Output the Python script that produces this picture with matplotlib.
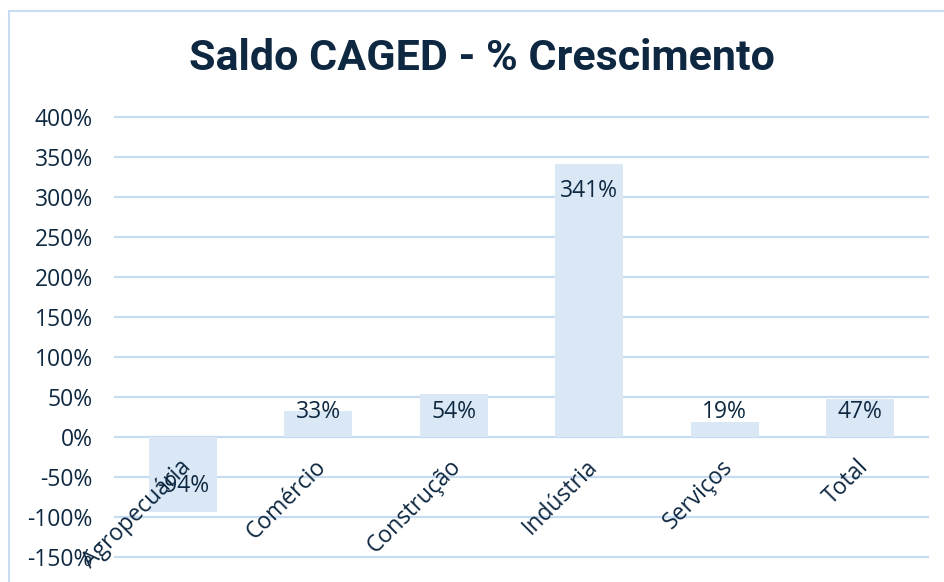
import matplotlib
matplotlib.use("Agg")
import matplotlib.pyplot as plt
from matplotlib.patches import Rectangle
from matplotlib.ticker import FuncFormatter

categorias = ["Agropecuária", "Comércio", "Construção", "Indústria", "Serviços", "Total"]
crescimento = [-94, 33, 54, 341, 19, 47]
yticks = list(range(-150, 401, 50))

navy = "#0e2841"
bar_color = "#dae8f6"
grid_color = "#c8dcf1"

plt.rcParams['font.family'] = ['Open Sans', 'DejaVu Sans']

fig = plt.figure(figsize=(9.44, 5.82), dpi=100)
ax = fig.add_axes([115/944, 1 - 557/582, (928 - 115)/944, (557 - 117)/582])

x = range(len(categorias))
ax.bar(x, crescimento, width=0.5, color=bar_color, zorder=2)

ax.set_xlim(-0.5, len(categorias) - 0.5)
ax.set_ylim(-150, 400)
ax.set_yticks(yticks)
ax.yaxis.set_major_formatter(FuncFormatter(lambda v, p: f"{v:.0f}%"))
ax.tick_params(axis='y', length=0, pad=16, labelsize=16.5, labelcolor=navy)
ax.set_xticks([])
for s in ax.spines.values():
    s.set_visible(False)
for t in yticks:
    ax.axhline(t, color=grid_color, lw=1.6, zorder=1, clip_on=False)

# rótulos de dados (dentro da ponta da barra)
for i, v in enumerate(crescimento):
    sign = 1 if v >= 0 else -1
    y = sign * max(abs(v) - 33, 31)
    ax.text(i, y, f"{v}%", ha='center', va='center', fontsize=16.5, color=navy, zorder=5)

# rótulos das categorias junto da linha do zero
for i, c in enumerate(categorias):
    ax.annotate(c, (i, 0), xytext=(-3, -13), textcoords='offset points',
                rotation=45, rotation_mode='anchor', ha='right', va='top',
                fontsize=16.5, color=navy, zorder=6, annotation_clip=False)

fig.text(482/944, 1 - 58/582, "Saldo CAGED - % Crescimento", ha='center', va='center',
         fontsize=31, fontweight='bold', color=navy, family=['Roboto', 'DejaVu Sans'])

fig.patches.append(Rectangle((9/944, -0.1), 1.1, 1.1 - 11/582, transform=fig.transFigure,
                             fill=False, edgecolor=grid_color, lw=1.5))

fig.savefig("out.png", dpi=100)
